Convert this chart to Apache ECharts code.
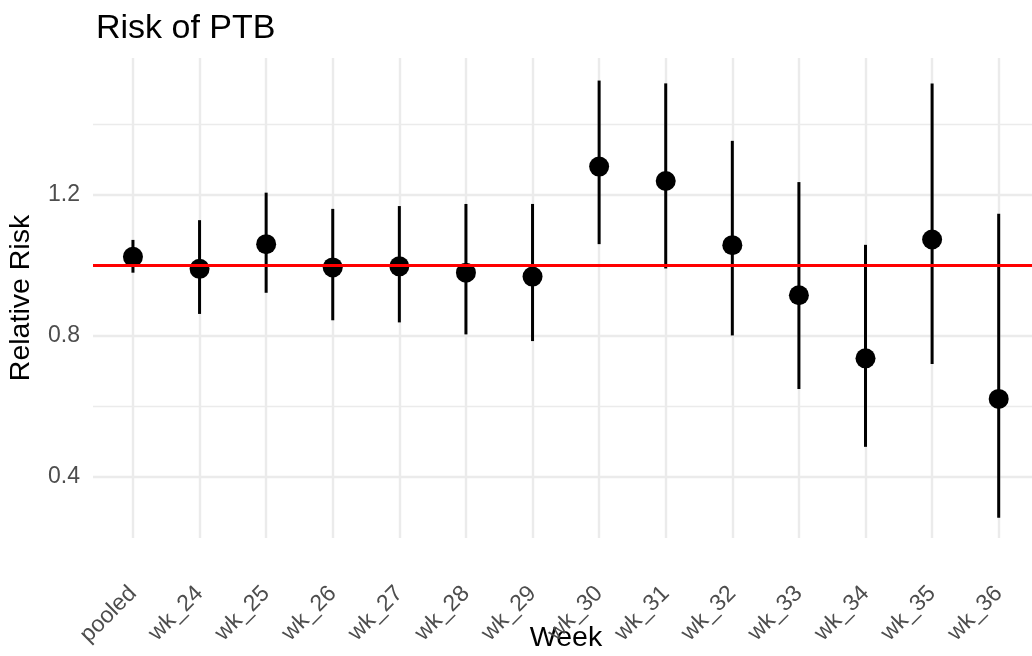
<!DOCTYPE html>
<html>
<head>
<meta charset="utf-8">
<script src="https://cdn.jsdelivr.net/npm/echarts@6/dist/echarts.min.js"></script>
<style>
  html, body { margin: 0; padding: 0; background: #ffffff; }
  #chart { width: 1032px; height: 656px; }
</style>
</head>
<body>
<div id="chart"></div>
<script>
const categories = ['pooled', 'wk_24', 'wk_25', 'wk_26', 'wk_27', 'wk_28', 'wk_29',
                    'wk_30', 'wk_31', 'wk_32', 'wk_33', 'wk_34', 'wk_35', 'wk_36'];
const estimate = [1.024, 0.990, 1.060, 0.994, 0.997, 0.979, 0.968,
                  1.280, 1.239, 1.057, 0.915, 0.736, 1.073, 0.621];
const lower    = [0.979, 0.862, 0.922, 0.844, 0.838, 0.804, 0.785,
                  1.060, 0.991, 0.801, 0.649, 0.485, 0.720, 0.284];
const upper    = [1.072, 1.128, 1.206, 1.160, 1.168, 1.174, 1.174,
                  1.524, 1.516, 1.353, 1.236, 1.058, 1.516, 1.146];
const yMajorTicks = [0.4, 0.8, 1.2];
const yMinorTicks = [0.6, 1.0, 1.4];
const referenceValue = 1;
const titleText = 'Risk of PTB';
const xTitle = 'Week';
const yTitle = 'Relative Risk';

const FONT = '"Liberation Sans", Arial, Helvetica, sans-serif';
const idx = categories.map((c, i) => i);
const yMin = 0.2264, yMax = 1.588;

const chart = echarts.init(document.getElementById('chart'), null, { renderer: 'canvas' });

const option = {
  backgroundColor: '#ffffff',
  animation: false,
  title: {
    text: titleText,
    left: 91,
    top: 7,
    textStyle: { fontFamily: FONT, fontSize: 34, fontWeight: 'normal', color: '#000000' }
  },
  grid: { left: 93, right: 0, top: 58, bottom: 118, containLabel: false, outerBoundsMode: 'none' },
  xAxis: {
    type: 'value',
    min: -0.6,
    max: 13.5,
    name: xTitle,
    nameLocation: 'middle',
    nameGap: 86,
    nameMoveOverlap: false,
    nameTextStyle: { fontFamily: FONT, fontSize: 28.5, color: '#000000', padding: [0, 0, 0, 7] },
    axisLine: { show: false },
    axisTick: { show: false, customValues: idx },
    axisLabel: {
      customValues: idx,
      rotate: 45,
      margin: 52,
      align: 'right',
      verticalAlign: 'middle',
      fontFamily: FONT,
      fontSize: 23,
      color: '#4D4D4D',
      formatter: v => categories[Math.round(v)]
    },
    splitLine: { show: true, lineStyle: { color: '#EBEBEB', width: 2.4 } }
  },
  yAxis: [
    {
      type: 'value',
      min: yMin,
      max: yMax,
      name: yTitle,
      nameLocation: 'middle',
      nameRotate: 90,
      nameGap: 57,
      nameMoveOverlap: false,
      nameTextStyle: { fontFamily: FONT, fontSize: 28.5, color: '#000000' },
      axisLine: { show: false },
      axisTick: { show: false, customValues: yMajorTicks },
      axisLabel: {
        customValues: yMajorTicks,
        margin: 13,
        fontFamily: FONT,
        fontSize: 23,
        color: '#4D4D4D',
        formatter: v => v.toFixed(1)
      },
      splitLine: { show: true, lineStyle: { color: '#EBEBEB', width: 2.4 } }
    },
    {
      type: 'value',
      min: yMin,
      max: yMax,
      position: 'left',
      axisLine: { show: false },
      axisTick: { show: false, customValues: yMinorTicks },
      axisLabel: { show: false, customValues: yMinorTicks },
      splitLine: { show: true, lineStyle: { color: '#EBEBEB', width: 1.3 } }
    }
  ],
  series: [
    {
      type: 'custom',
      name: 'ci',
      z: 3,
      data: idx.map(i => [i, lower[i], upper[i]]),
      encode: { x: 0, y: [1, 2] },
      renderItem: function (params, api) {
        const x = api.value(0);
        const p1 = api.coord([x, api.value(1)]);
        const p2 = api.coord([x, api.value(2)]);
        return {
          type: 'line',
          shape: { x1: p1[0], y1: p1[1], x2: p2[0], y2: p2[1] },
          style: { stroke: '#000000', lineWidth: 3 }
        };
      },
      silent: true
    },
    {
      type: 'scatter',
      name: 'estimate',
      z: 4,
      symbol: 'circle',
      symbolSize: 20,
      itemStyle: { color: '#000000', opacity: 1 },
      data: idx.map(i => [i, estimate[i]]),
      silent: true
    },
    {
      type: 'scatter',
      name: 'reference',
      z: 6,
      data: [],
      silent: true,
      markLine: {
        silent: true,
        symbol: ['none', 'none'],
        label: { show: false },
        lineStyle: { color: '#FF0000', width: 2.8, type: 'solid', opacity: 1 },
        data: [{ yAxis: referenceValue }]
      }
    }
  ]
};

chart.setOption(option);
</script>
</body>
</html>
